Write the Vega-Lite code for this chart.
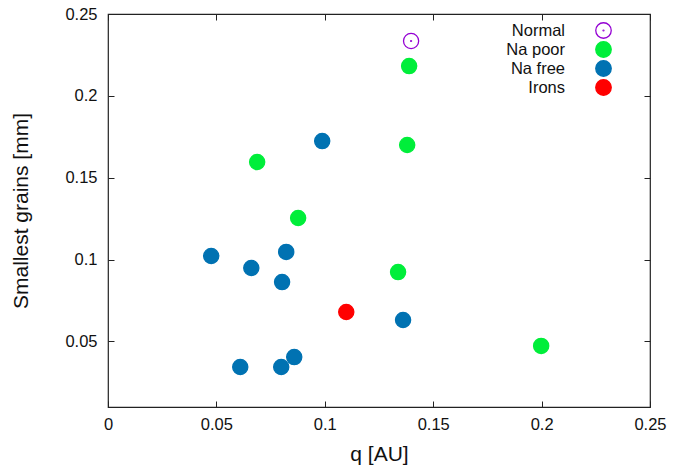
{
  "$schema": "https://vega.github.io/schema/vega-lite/v6.json",
  "width": 542,
  "height": 393,
  "autosize": {"type": "none"},
  "padding": {"left": 108, "top": 14, "right": 23, "bottom": 64},
  "background": "white",
  "config": {
    "view": {"stroke": "#222222", "strokeWidth": 1.2},
    "font": "Liberation Sans",
    "axis": {
      "grid": false,
      "domain": false,
      "tickColor": "#222222",
      "tickSize": -6,
      "tickWidth": 1,
      "labelFont": "Liberation Sans",
      "labelFontSize": 16.5,
      "labelColor": "#111111",
      "titleFont": "Liberation Sans",
      "titleFontSize": 21,
      "titleFontWeight": "normal",
      "titleColor": "#111111"
    },
    "legend": {
      "title": null,
      "orient": "none",
      "legendX": 487,
      "legendY": 8,
      "symbolSize": 240,
      "symbolStrokeWidth": 1.3,
      "labelFont": "Liberation Sans",
      "labelFontSize": 16.5,
      "labelColor": "#111111",
      "labelAlign": "right",
      "labelOffset": -47,
      "rowPadding": -2.6,
      "padding": 0,
      "labelLimit": 200
    }
  },
  "data": {
    "values": [
      {"group": "Normal", "q": 0.1398, "g": 0.2335},
      {"group": "Na poor", "q": 0.1389, "g": 0.2182},
      {"group": "Na poor", "q": 0.0688, "g": 0.1596},
      {"group": "Na poor", "q": 0.1380, "g": 0.1700},
      {"group": "Na poor", "q": 0.0877, "g": 0.1254},
      {"group": "Na poor", "q": 0.1338, "g": 0.0924},
      {"group": "Na poor", "q": 0.1998, "g": 0.0473},
      {"group": "Na free", "q": 0.0988, "g": 0.1724},
      {"group": "Na free", "q": 0.0476, "g": 0.1022},
      {"group": "Na free", "q": 0.0661, "g": 0.0949},
      {"group": "Na free", "q": 0.0822, "g": 0.1047},
      {"group": "Na free", "q": 0.0803, "g": 0.0863},
      {"group": "Na free", "q": 0.1361, "g": 0.0631},
      {"group": "Na free", "q": 0.0859, "g": 0.0405},
      {"group": "Na free", "q": 0.0799, "g": 0.0344},
      {"group": "Na free", "q": 0.0610, "g": 0.0344},
      {"group": "Irons", "q": 0.1099, "g": 0.0680}
    ]
  },
  "resolve": {"axis": {"x": "independent", "y": "independent"}},
  "layer": [
    {
      "mark": {"type": "point", "opacity": 1, "strokeWidth": 1.3},
      "encoding": {
        "x": {
          "field": "q", "type": "quantitative",
          "scale": {"domain": [0, 0.25], "nice": false, "zero": false},
          "axis": {"title": "q [AU]", "values": [0, 0.05, 0.1, 0.15, 0.2, 0.25], "labelExpr": "datum.value == 0 ? '0' : format(datum.value, '~g')", "labelPadding": 15, "titlePadding": 11, "labelFlush": false}
        },
        "y": {
          "field": "g", "type": "quantitative",
          "scale": {"domain": [0.01, 0.25], "nice": false, "zero": false},
          "axis": {"title": "Smallest grains [mm]", "values": [0.05, 0.1, 0.15, 0.2, 0.25], "labelExpr": "format(datum.value, '~g')", "labelPadding": 17, "titlePadding": 33, "labelFlush": false}
        },
        "shape": {
          "field": "group", "type": "nominal",
          "scale": {
            "domain": ["Normal", "Na poor", "Na free", "Irons"],
            "range": ["M-1,0A1,1,0,1,1,1,0A1,1,0,1,1,-1,0ZM-0.06,0A0.06,0.06,0,1,1,0.06,0A0.06,0.06,0,1,1,-0.06,0Z", "circle", "circle", "circle"]
          }
        },
        "fill": {
          "field": "group", "type": "nominal",
          "scale": {
            "domain": ["Normal", "Na poor", "Na free", "Irons"],
            "range": ["transparent", "#00ee3a", "#0072b2", "#ff0000"]
          }
        },
        "stroke": {
          "field": "group", "type": "nominal",
          "scale": {
            "domain": ["Normal", "Na poor", "Na free", "Irons"],
            "range": ["#9400d3", "#00ee3a", "#0072b2", "#ff0000"]
          }
        },
        "size": {"value": 230}
      }
    },
    {
      "mark": {"type": "point", "opacity": 0},
      "encoding": {
        "x": {
          "field": "q", "type": "quantitative",
          "scale": {"domain": [0, 0.25], "nice": false, "zero": false},
          "axis": {"orient": "top", "title": null, "labels": false, "values": [0, 0.05, 0.1, 0.15, 0.2, 0.25]}
        },
        "y": {
          "field": "g", "type": "quantitative",
          "scale": {"domain": [0.01, 0.25], "nice": false, "zero": false},
          "axis": {"orient": "right", "title": null, "labels": false, "values": [0.05, 0.1, 0.15, 0.2, 0.25]}
        }
      }
    }
  ]
}
